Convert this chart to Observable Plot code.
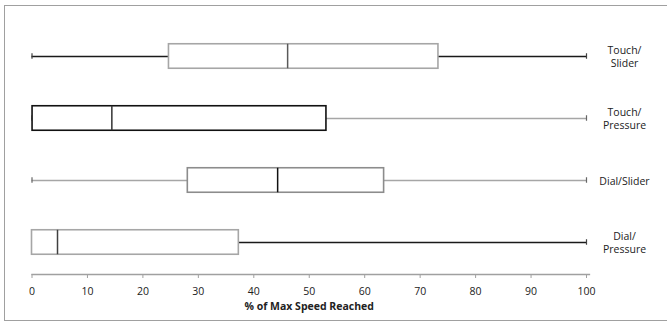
<!DOCTYPE html>
<html>
<head>
<meta charset="utf-8">
<script src="https://cdn.jsdelivr.net/npm/d3@7"></script>
<script src="https://cdn.jsdelivr.net/npm/@observablehq/plot@0.6"></script>
<style>
  html, body { margin: 0; padding: 0; background: #fff; }
  #wrap { position: relative; width: 667px; height: 324px; overflow: hidden; }
  #border { position: absolute; left: 4px; top: 5px; width: 670px; height: 316px;
            border: 1px solid #a0a0a0; box-sizing: border-box; pointer-events: none; }
  svg { font-family: "Open Sans", sans-serif; }
</style>
</head>
<body>
<div id="wrap"><div id="border"></div></div>
<script>
// Data
const categories = ["Touch/\nSlider", "Touch/\nPressure", "Dial/Slider", "Dial/\nPressure"];
const minVals    = [0, 0, 0, 0];
const q1Vals     = [24.7, 0.1, 28.1, 0];
const medianVals = [46.1, 14.4, 44.3, 4.6];
const q3Vals     = [73.3, 53.1, 63.5, 37.3];
const maxVals    = [100, 100, 100, 100];
const xTicks     = [0, 10, 20, 30, 40, 50, 60, 70, 80, 90, 100];
const axisTitle  = "% of Max Speed Reached";

// Styling per series
const boxStroke     = ["#a6a6a6", "#111111", "#8c8c8c", "#a6a6a6"];
const medianStroke  = ["#595959", "#333333", "#111111", "#404040"];
const whiskerStroke = ["#1a1a1a", "#a6a6a6", "#a6a6a6", "#1a1a1a"];
const capStroke     = ["#404040", "#666666", "#666666", "#404040"];

const rows = categories.map((c, i) => ({
  cat: c, min: minVals[i], q1: q1Vals[i], med: medianVals[i], q3: q3Vals[i], max: maxVals[i],
  box: boxStroke[i], medC: medianStroke[i], wh: whiskerStroke[i], cap: capStroke[i]
}));
const caps = rows.flatMap(r => [{cat: r.cat, x: r.min, c: r.cap}, {cat: r.cat, x: r.max, c: r.cap}]);

const bandH = 62.5;
const boxInset = (bandH - 25) / 2;
const capInset = (bandH - 6) / 2;

const chart = Plot.plot({
  width: 667,
  height: 324,
  marginLeft: 31.5,
  marginRight: 81,
  marginTop: 24,
  marginBottom: 50,
  style: {fontFamily: "'Open Sans', sans-serif", fontSize: "10.5px", color: "#222"},
  x: {domain: [0, 100], ticks: xTicks},
  y: {domain: categories, padding: 0},
  marks: [
    Plot.frame({anchor: "bottom", stroke: "#a0a0a0", strokeWidth: 1.3, insetRight: -3}),
    Plot.axisX({ticks: xTicks, tickSize: 4, tickPadding: 9, stroke: "#a0a0a0", label: null, fill: "#222", fontSize: 10.5}),
    Plot.axisY({anchor: "right", tickSize: 0, tickPadding: 3, textAnchor: "middle", dx: 35,
                lineHeight: 1.25, label: null, fill: "#222", fontSize: 10.5}),
    Plot.ruleY(rows, {y: "cat", x1: "min", x2: "max", stroke: d => d.wh, strokeWidth: 1.3}),
    Plot.tickX(caps, {x: "x", y: "cat", stroke: d => d.c, strokeWidth: 1.2,
                      insetTop: capInset, insetBottom: capInset}),
    Plot.barX(rows, {y: "cat", x1: "q1", x2: "q3", fill: "white", stroke: d => d.box,
                     strokeWidth: 1.6, insetTop: boxInset, insetBottom: boxInset}),
    Plot.tickX(rows, {x: "med", y: "cat", stroke: d => d.medC, strokeWidth: 1.5,
                      insetTop: boxInset, insetBottom: boxInset}),
    Plot.text([axisTitle], {frameAnchor: "bottom", dy: 35, fontWeight: "bold", fill: "#222", fontSize: 10.5})
  ]
});
document.getElementById("wrap").prepend(chart);
</script>
</body>
</html>
